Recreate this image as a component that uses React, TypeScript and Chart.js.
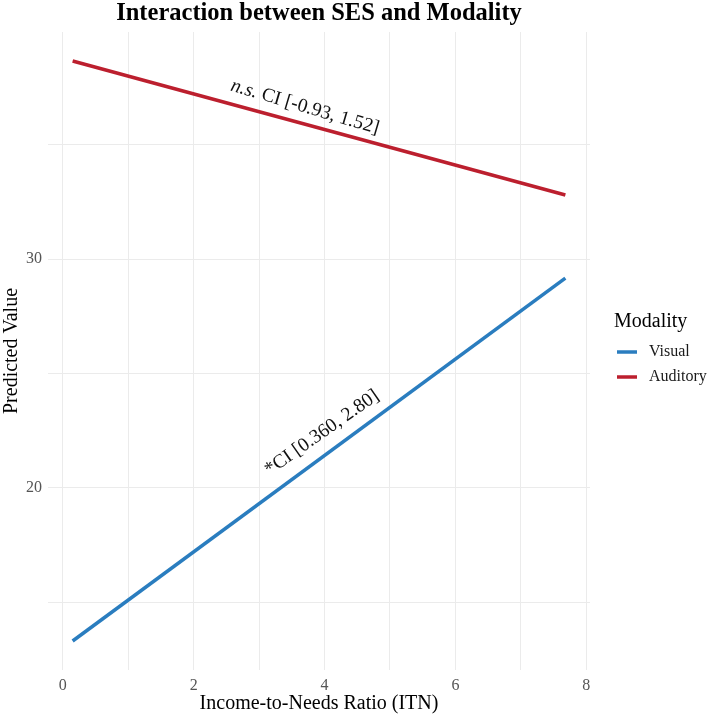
import React, { useEffect, useRef } from "react";
import { Chart, registerables } from "chart.js";

Chart.register(...registerables);

// ---- data ----
const itn = [0.15, 7.68];
const visualValues = [13.3, 29.17];
const auditoryValues = [38.66, 32.8];
const seriesNames = ["Visual", "Auditory"];
const xTickLabels = [0, 2, 4, 6, 8];
const yTickLabels = [20, 30];
const titleText = "Interaction between SES and Modality";
const xTitle = "Income-to-Needs Ratio (ITN)";
const yTitle = "Predicted Value";
const legendTitle = "Modality";
// annotation anchors (data units)
const auditoryNote = { x: 3.7, y: 36.64, italic: "n.s.", rest: " CI [-0.93, 1.52]" };
const visualNote = { x: 3.96, y: 22.4, italic: "", rest: "*CI [0.360, 2.80]" };

const BLUE = "#2A7DBF";
const RED = "#BC1F2E";
const FONT = '"Liberation Serif", "Times New Roman", serif';
const GRID = "#EBEBEB";

function expand(values: number[], frac = 0.05) {
  const lo = Math.min(...values);
  const hi = Math.max(...values);
  const pad = (hi - lo) * frac;
  return [lo - pad, hi + pad];
}

const overlay = {
  id: "overlay",
  afterDraw(chart: any) {
    const { ctx, chartArea, scales } = chart;
    ctx.save();
    // title
    ctx.fillStyle = "#000";
    ctx.font = `bold 24.5px ${FONT}`;
    ctx.textAlign = "center";
    ctx.textBaseline = "middle";
    ctx.fillText(titleText, (chartArea.left + chartArea.right) / 2, 14);

    // annotations
    const drawNote = (note: any, angleDeg: number, size: number) => {
      const px = scales.x.getPixelForValue(note.x);
      const py = scales.y.getPixelForValue(note.y);
      ctx.save();
      ctx.translate(px, py);
      ctx.rotate((angleDeg * Math.PI) / 180);
      ctx.textBaseline = "middle";
      ctx.textAlign = "left";
      ctx.fillStyle = "#111";
      const itFont = `italic ${size}px ${FONT}`;
      const nFont = `${size}px ${FONT}`;
      ctx.font = itFont;
      const w1 = note.italic ? ctx.measureText(note.italic).width : 0;
      ctx.font = nFont;
      const w2 = ctx.measureText(note.rest).width;
      let x0 = -(w1 + w2) / 2;
      if (note.italic) {
        ctx.font = itFont;
        ctx.fillText(note.italic, x0, 0);
        x0 += w1;
      }
      ctx.font = nFont;
      ctx.fillText(note.rest, x0, 0);
      ctx.restore();
    };
    drawNote(auditoryNote, 16.5, 19.5);
    drawNote(visualNote, -35, 19.5);

    // legend
    const lx = 614;
    ctx.textAlign = "left";
    ctx.textBaseline = "middle";
    ctx.fillStyle = "#000";
    ctx.font = `20px ${FONT}`;
    ctx.fillText(legendTitle, lx, 322);
    const colors = [BLUE, RED];
    const ys = [352, 377];
    seriesNames.forEach((name, i) => {
      ctx.strokeStyle = colors[i];
      ctx.lineWidth = 3.5;
      ctx.beginPath();
      ctx.moveTo(617, ys[i]);
      ctx.lineTo(637, ys[i]);
      ctx.stroke();
      ctx.fillStyle = "#1a1a1a";
      ctx.font = `16px ${FONT}`;
      ctx.fillText(name, 649, ys[i]);
    });
    ctx.restore();
  },
};

export default function App() {
  const ref = useRef<HTMLCanvasElement | null>(null);
  useEffect(() => {
    if (!ref.current) return;
    const [xMin, xMax] = expand(itn);
    const [yMin, yMax] = expand([...visualValues, ...auditoryValues]);
    const chart = new Chart(ref.current, {
      type: "line",
      data: {
        datasets: [
          {
            label: seriesNames[0],
            data: itn.map((x, i) => ({ x, y: visualValues[i] })),
            borderColor: BLUE,
            backgroundColor: BLUE,
            borderWidth: 3.5,
            pointRadius: 0,
            borderCapStyle: "butt",
          },
          {
            label: seriesNames[1],
            data: itn.map((x, i) => ({ x, y: auditoryValues[i] })),
            borderColor: RED,
            backgroundColor: RED,
            borderWidth: 3.5,
            pointRadius: 0,
            borderCapStyle: "butt",
          },
        ],
      },
      options: {
        animation: false,
        responsive: false,
        layout: { padding: { left: 0, right: 119, top: 32, bottom: 0 } },
        plugins: {
          legend: { display: false },
          title: { display: false },
          tooltip: { enabled: false },
        },
        scales: {
          x: {
            type: "linear",
            min: xMin,
            max: xMax,
            afterFit: (s: any) => {
              s.height = 46;
            },
            grid: { color: GRID, drawTicks: false, lineWidth: 1 },
            border: { display: false },
            ticks: {
              stepSize: 1,
              includeBounds: false,
              autoSkip: false,
              maxRotation: 0,
              padding: 6,
              color: "#555",
              font: { family: FONT, size: 16 },
              callback: (v: any) => (xTickLabels.includes(Number(v)) ? String(v) : ""),
            },
            title: {
              display: true,
              text: xTitle,
              color: "#000",
              font: { family: FONT, size: 20 },
              padding: { top: 0, bottom: 0 },
            },
          },
          y: {
            type: "linear",
            min: yMin,
            max: yMax,
            afterFit: (s: any) => {
              s.width = 48;
            },
            grid: { color: GRID, drawTicks: false, lineWidth: 1 },
            border: { display: false },
            ticks: {
              stepSize: 5,
              includeBounds: false,
              autoSkip: false,
              padding: 6,
              color: "#555",
              font: { family: FONT, size: 16 },
              callback: (v: any) => (yTickLabels.includes(Number(v)) ? String(v) : ""),
            },
            title: {
              display: true,
              text: yTitle,
              color: "#000",
              font: { family: FONT, size: 20 },
              padding: { top: 0, bottom: 0 },
            },
          },
        },
      },
      plugins: [overlay],
    } as any);
    return () => chart.destroy();
  }, []);
  return (
    <div style={{ position: "absolute", left: 0, top: 0, width: 709, height: 716, background: "#fff" }}>
      <canvas ref={ref} width={709} height={716} style={{ display: "block" }} />
    </div>
  );
}
